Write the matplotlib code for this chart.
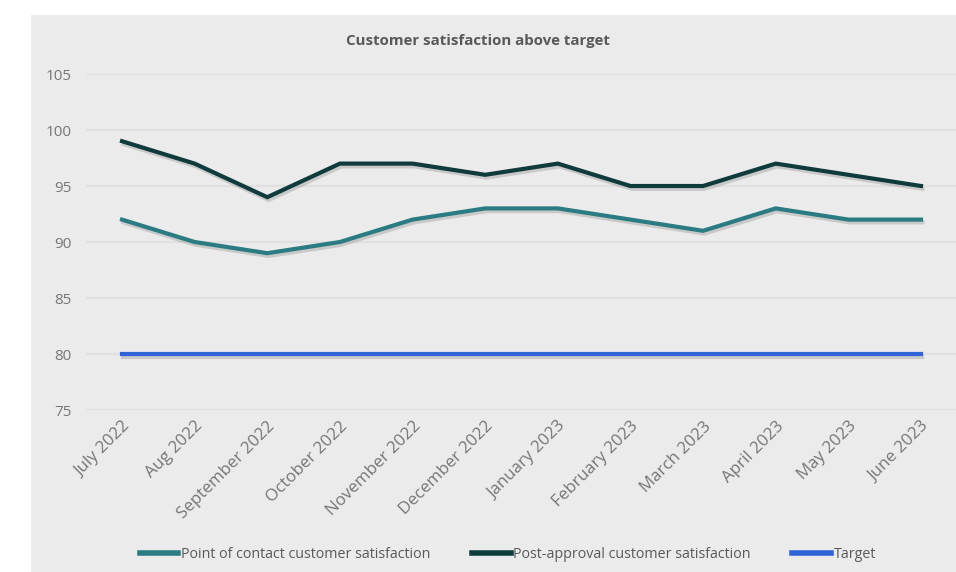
import matplotlib
matplotlib.use("Agg")
import matplotlib.pyplot as plt
import matplotlib.patheffects as pe
from matplotlib.patches import Rectangle

months = ["July 2022", "Aug 2022", "September 2022", "October 2022",
          "November 2022", "December 2022", "January 2023", "February 2023",
          "March 2023", "April 2023", "May 2023", "June 2023"]
point_of_contact = [92, 90, 89, 90, 92, 93, 93, 92, 91, 93, 92, 92]
post_approval = [99, 97, 94, 97, 97, 96, 97, 95, 95, 97, 96, 95]
target = [80] * 12
y_ticks = [75, 80, 85, 90, 95, 100, 105]

plt.rcParams["font.family"] = ["Open Sans", "DejaVu Sans"]

W, H = 956, 572
fig = plt.figure(figsize=(W / 100, H / 100), dpi=100, facecolor="white")

# grey chart panel, kept behind the axes
fig.patches.append(Rectangle((31 / W, 0), 1 - 31 / W, 1 - 15 / H,
                             transform=fig.transFigure, facecolor="#ebebeb",
                             edgecolor="none", zorder=-10))

left, right = 85.7, 957.3
top, bottom = 74, 410
ax = fig.add_axes([left / W, 1 - bottom / H, (right - left) / W, (bottom - top) / H])
ax.set_facecolor("none")
ax.set_zorder(1)

x = list(range(len(months)))
shadow = [pe.SimpleLineShadow(offset=(1, -2), shadow_color="#8a8a8a", alpha=0.35), pe.Normal()]

ax.plot(x, point_of_contact, color="#2b7c82", lw=3.0, solid_joinstyle="miter",
        label="Point of contact customer satisfaction", path_effects=shadow, zorder=3)
ax.plot(x, post_approval, color="#0f3b3c", lw=3.0, solid_joinstyle="miter",
        label="Post-approval customer satisfaction", path_effects=shadow, zorder=3)
ax.plot(x, target, color="#2f63d9", lw=3.0,
        label="Target", path_effects=shadow, zorder=3)

ax.set_xlim(-0.5, 11.5)
ax.set_ylim(75, 105)
ax.set_yticks(y_ticks)
ax.set_yticklabels([str(v) for v in y_ticks], color="#767676", fontsize=11)
ax.set_xticks(x)
ax.set_xticklabels(months, rotation=45, ha="right", rotation_mode="anchor",
                   color="#767676", fontsize=12.2)
ax.tick_params(axis="both", length=0)
ax.tick_params(axis="y", pad=10)
ax.tick_params(axis="x", pad=6)

ax.grid(axis="y", color="#e0e0e0", lw=1.6)
ax.set_axisbelow(True)
for s in ax.spines.values():
    s.set_visible(False)

fig.text(478 / W, 1 - 41 / H, "Customer satisfaction above target",
         ha="center", va="center", fontsize=10.8, fontweight="bold", color="#595959")

leg = fig.legend(loc="center", bbox_to_anchor=(508 / W, 1 - 555 / H), ncol=3,
                 frameon=False, fontsize=10.3, handlelength=2.7, handletextpad=0.2,
                 columnspacing=2.9)
for t in leg.get_texts():
    t.set_color("#595959")
for h in leg.legend_handles:
    h.set_linewidth(4)
    h.set_path_effects([])

fig.savefig("out.png", dpi=100, facecolor="white")
